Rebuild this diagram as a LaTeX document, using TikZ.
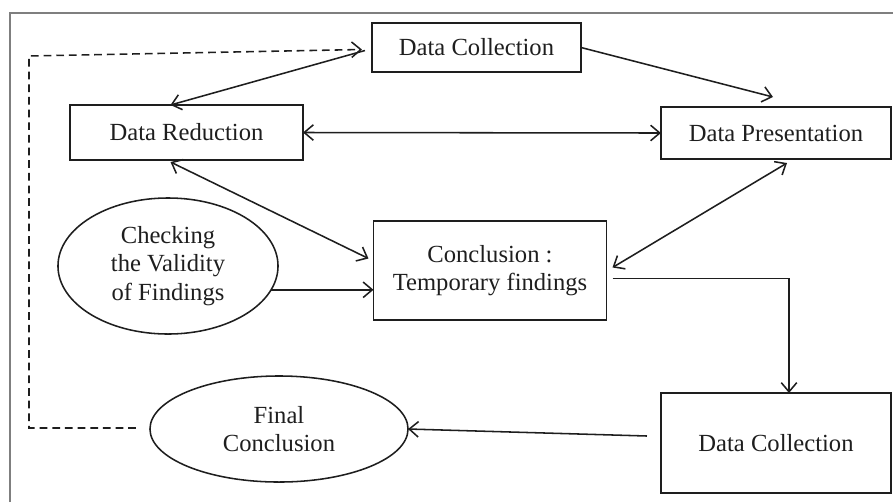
\documentclass[tikz,border=0pt]{standalone}
\usepackage{fontspec}
\setmainfont{Liberation Serif}
\usetikzlibrary{arrows.meta, shapes.geometric, calc}
\definecolor{framegray}{HTML}{7F7F7F}
\definecolor{inkblack}{HTML}{1E1E1E}

\begin{document}
\begin{tikzpicture}[x=0.025cm, y=-0.025cm,
      font=\fontsize{17.5}{20}\selectfont, text=inkblack,
      box/.style={draw=inkblack, line width=1.2pt, inner sep=0pt, outer sep=0pt, align=center},
      oval/.style={ellipse, draw=inkblack, line width=1.1pt, inner sep=0pt, outer sep=0pt, align=center},
      arr/.style={-{Straight Barb[length=6.5pt, width=11pt]}, line width=1.1pt, draw=inkblack},
      twoway/.style={{Straight Barb[length=6.5pt, width=11pt]}-{Straight Barb[length=6.5pt, width=11pt]}, line width=1.1pt, draw=inkblack}]
   \useasboundingbox (0,0) rectangle (893,502);
   % outer frame (right and bottom sides are cut off)
   \draw[framegray, line width=1pt] (10,502) -- (10,13) -- (893,13);
   % boxes
   \node[box, minimum width=5.225cm, minimum height=1.225cm] (collect) at (476.5,47.5) {Data Collection};
   \node[box, minimum width=5.825cm, minimum height=1.375cm] (reduce) at (186.5,132.5) {Data Reduction};
   \node[box, minimum width=5.75cm, minimum height=1.3cm] (present) at (776,133) {Data Presentation};
   \node[box, minimum width=5.825cm, minimum height=2.475cm] (temp) at (490,270.5) {Conclusion :\\Temporary findings};
   \node[box, minimum width=5.75cm, minimum height=2.5cm] (recollect) at (776,443) {Data Collection};
   % ovals
   \node[oval, minimum width=5.5cm, minimum height=3.4cm] (check) at (168,266) {Checking\\the Validity\\of Findings};
   \node[oval, minimum width=6.45cm, minimum height=2.65cm] (final) at (279,429) {Final\\Conclusion};
   % connectors
   \draw[arr] ($(collect.west)+(-7,3)$) -- ($(reduce.north)+(-16,0)$);
   \draw[arr] (collect.east) -- ($(present.north)+(-3,-10)$);
   \draw[twoway] (reduce.east) -- (present.west);
   \draw[twoway] ($(reduce.south)+(-16,2)$) -- ($(temp.west)+(-5,-12)$);
   \draw[twoway] ($(present.south)+(11,4)$) -- ($(temp.east)+(6,-3)$);
   \draw[arr] (check.-13) -- (temp.west |- check.-13);
   \draw[arr] ($(temp.east)+(6,8)$) -| ($(recollect.north)+(13,0)$);
   \draw[arr] ($(recollect.west)+(-14,-7)$) -- (final.east);
   % feedback loop
   \draw[arr, dash pattern=on 5.5pt off 3.5pt] ($(final.west)+(-14,-1)$) -- (29,428) -- (29,56) -- ($(collect.west)+(-10,2)$);
\end{tikzpicture}
\end{document}
